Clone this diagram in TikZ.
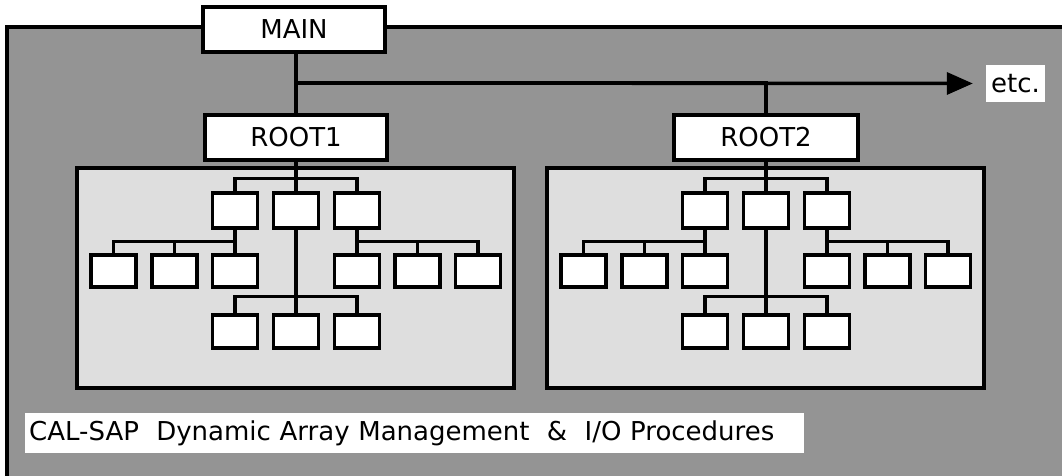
\documentclass[tikz,border=0pt]{standalone}
\usepackage{fontspec}
\setmainfont{DejaVu Sans}
\usetikzlibrary{arrows.meta}

\definecolor{outershade}{gray}{0.58}
\definecolor{innershade}{gray}{0.87}

\tikzset{
  conn/.style={line width=3.5pt},
  modbox/.style={draw, fill=white, line width=3.5pt, inner sep=0pt, anchor=center},
  rootbox/.style={modbox, minimum width=182pt, minimum height=45pt, font=\fontsize{26}{26}\selectfont},
  leaf/.style={modbox, minimum width=45pt, minimum height=34pt},
  panel/.style={draw, fill=innershade, line width=3.5pt, inner sep=0pt, minimum width=437pt, minimum height=220pt},
  label/.style={fill=white, inner sep=0pt, font=\fontsize{26}{26}\selectfont},
}

\begin{document}
\begin{tikzpicture}[x=1pt, y=-1pt]
  \useasboundingbox (0,0) rectangle (1062,475);

  % shaded frame holding the whole program structure
  \begin{scope}
    \clip (0,0) rectangle (1062,475);
    \draw[fill=outershade, line width=3.5pt] (7,27) rectangle (1075,490);
  \end{scope}

  % top level and the chain of roots
  \node[rootbox] (main) at (294,29.5) {MAIN};
  \node[rootbox] (root1) at (296,137.5) {ROOT1};
  \node[rootbox, minimum width=184pt] (root2) at (766,137.5) {ROOT2};
  \node[label, minimum width=59pt, minimum height=37pt] (etc) at (1015.5,83.5) {etc.};

  \coordinate (bus) at (296,83);
  \draw[conn] (main.south -| root1) -- (root1.north);
  \draw[conn, -{Triangle[length=26pt, width=22pt]}, shorten >=13pt] (bus) -- (etc.west);
  \draw[conn] (root2.north) |- (bus);

  % the two identical procedure trees
  \foreach \s/\o in {1/0, 2/470} {
    \begin{scope}[xshift=\o pt]
      \node[panel] (p\s) at (295.5,278) {};

      \node[leaf, minimum height=35pt] (t\s1) at (235,210.5) {};
      \node[leaf, minimum height=35pt] (t\s2) at (296,210.5) {};
      \node[leaf, minimum height=35pt] (t\s3) at (357,210.5) {};

      \node[leaf, minimum height=32pt] (m\s1) at (113.5,271) {};
      \node[leaf, minimum height=32pt] (m\s2) at (174.5,271) {};
      \node[leaf, minimum height=32pt] (m\s3) at (235,271) {};
      \node[leaf, minimum height=32pt] (m\s4) at (357,271) {};
      \node[leaf, minimum height=32pt] (m\s5) at (417.5,271) {};
      \node[leaf, minimum height=32pt] (m\s6) at (478,271) {};

      \node[leaf, minimum height=33pt] (b\s1) at (235,331.5) {};
      \node[leaf, minimum height=33pt] (b\s2) at (296,331.5) {};
      \node[leaf, minimum height=33pt] (b\s3) at (357,331.5) {};

      \draw[conn] (root\s.south) -- (t\s2.north);
      \draw[conn] (t\s1.north) -- ++(0,-13) -| (t\s3.north);

      \draw[conn] (t\s1.south) -- (m\s3.north);
      \draw[conn] (m\s1.north) -- ++(0,-12) -| (m\s3.north);
      \draw[conn] (m\s2.north) -- ++(0,-12);

      \draw[conn] (t\s3.south) -- (m\s4.north);
      \draw[conn] (m\s4.north) -- ++(0,-12) -| (m\s6.north);
      \draw[conn] (m\s5.north) -- ++(0,-12);

      \draw[conn] (t\s2.south) -- (b\s2.north);
      \draw[conn] (b\s1.north) -- ++(0,-17) -| (b\s3.north);
    \end{scope}
  }

  % title strip
  \node[label, anchor=west, minimum height=40pt, text width=771pt, inner xsep=4pt] (title) at (25,433)
    {CAL-SAP\ \ Dynamic Array Management\ \ \&\ \ I/O Procedures};
\end{tikzpicture}
\end{document}
